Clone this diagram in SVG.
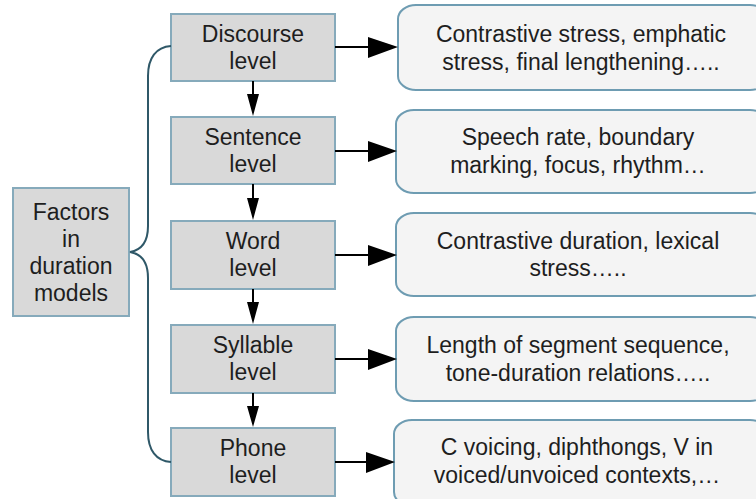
<svg xmlns="http://www.w3.org/2000/svg" width="756" height="499" viewBox="0 0 756 499">
<style>
.lvl{fill:#d9d9d9;stroke:#86aabb;stroke-width:2}
.info{fill:#f4f4f4;stroke:#6e9cb2;stroke-width:2}
text{font-family:"Liberation Sans",Arial,sans-serif;font-size:23px;fill:#1e1e1e;text-anchor:middle}
.ln{stroke:#000;stroke-width:2;fill:none}
.hd{fill:#000}
.brace{stroke:#2f5868;stroke-width:2;fill:none}
</style>
<rect width="756" height="499" fill="#fff"/>
<g id="factors">
<rect class="lvl" x="13" y="188" width="116" height="128"/>
<text x="71" y="220">Factors</text>
<text x="71" y="247">in</text>
<text x="71" y="274">duration</text>
<text x="71" y="301">models</text>
</g>
<g id="discourse">
<rect class="lvl" x="171" y="14" width="164" height="67"/>
<text x="253" y="42">Discourse</text><text x="253" y="69">level</text>
</g>
<g id="sentence">
<rect class="lvl" x="171" y="117" width="164" height="67"/>
<text x="253" y="145">Sentence</text><text x="253" y="172">level</text>
</g>
<g id="word">
<rect class="lvl" x="171" y="221" width="164" height="68"/>
<text x="253" y="249">Word</text><text x="253" y="276">level</text>
</g>
<g id="syllable">
<rect class="lvl" x="171" y="325" width="164" height="68"/>
<text x="253" y="353">Syllable</text><text x="253" y="380">level</text>
</g>
<g id="phone">
<rect class="lvl" x="171" y="428" width="164" height="68"/>
<text x="253" y="456">Phone</text><text x="253" y="483">level</text>
</g>
<g id="info1">
<rect class="info" x="398" y="5" width="370" height="85" rx="18" ry="14"/>
<text x="581" y="42">Contrastive stress, emphatic</text>
<text x="581" y="70">stress, final lengthening…..</text>
</g>
<g id="info2">
<rect class="info" x="396" y="110" width="372" height="83" rx="18" ry="14"/>
<text x="578" y="145">Speech rate, boundary</text>
<text x="578" y="173">marking, focus, rhythm…</text>
</g>
<g id="info3">
<rect class="info" x="396" y="213" width="372" height="83" rx="18" ry="14"/>
<text x="578" y="249">Contrastive duration, lexical</text>
<text x="578" y="276">stress…..</text>
</g>
<g id="info4">
<rect class="info" x="396" y="317" width="372" height="84" rx="18" ry="14"/>
<text x="578" y="353">Length of segment sequence,</text>
<text x="578" y="381">tone-duration relations…..</text>
</g>
<g id="info5">
<rect class="info" x="394" y="420" width="374" height="86" rx="18" ry="14"/>
<text x="577" y="455">C voicing, diphthongs, V in</text>
<text x="577" y="483">voiced/unvoiced contexts,…</text>
</g>
<g id="connectors">
<path class="brace" d="M171,46 C156,47 148,58 148,76 L148,226 C148,242 142,250 130,252 C142,254 148,262 148,278 L148,432 C148,450 156,461 171,462"/>
<path class="ln" d="M335,47 H370 M335,151 H370 M335,255 H370 M335,359 H370 M335,462 H368"/>
<path class="hd" d="M368,37 L398,47 L368,58 Z M368,141 L397,151 L368,162 Z M368,245 L397,255 L368,266 Z M368,349 L397,359 L368,370 Z M366,452 L395,462 L366,473 Z"/>
<path class="ln" d="M253,81 V96 M253,184 V200 M253,289 V304 M253,393 V408"/>
<path class="hd" d="M247,94 L259,94 L253,116 Z M247,198 L259,198 L253,220 Z M247,302 L259,302 L253,324 Z M247,406 L259,406 L253,427 Z"/>
</g>
</svg>
